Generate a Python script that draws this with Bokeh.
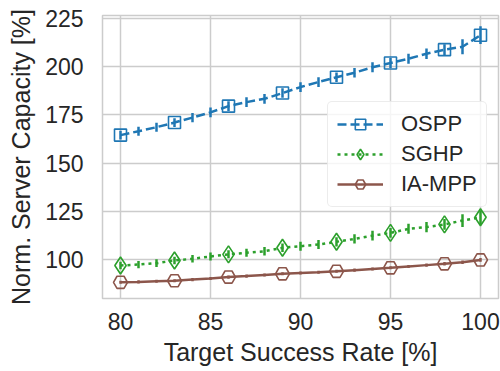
import numpy as np
from bokeh.plotting import figure
from bokeh.models import Range1d, FixedTicker, Legend, LegendItem
from bokeh.embed import file_html
from bokeh.resources import INLINE

# ---- data ----
target_rate = [80, 81, 82, 83, 84, 85, 86, 87, 88, 89, 90,
               91, 92, 93, 94, 95, 96, 97, 98, 99, 100]
ospp = [164.5, 166.5, 168.6, 171.0, 173.6, 176.3, 179.5, 181.6, 183.3, 186.3, 189.4,
        192.0, 194.5, 196.8, 199.7, 201.9, 204.1, 206.7, 208.8, 210.3, 216.3]
ospp_err = [2.3, 2.3, 2.3, 2.3, 2.4, 2.5, 2.5, 2.5, 2.5, 2.5, 2.5,
            2.5, 2.5, 2.5, 2.6, 2.6, 2.6, 2.7, 2.8, 3.9, 4.6]
sghp = [96.9, 97.4, 98.1, 99.5, 100.4, 101.6, 102.7, 103.5, 104.3, 106.1, 106.9,
        107.8, 109.2, 110.7, 112.4, 113.8, 115.9, 116.8, 118.2, 120.2, 121.9]
sghp_err = [1.9, 1.9, 2.0, 2.0, 2.0, 2.1, 2.1, 2.1, 2.2, 2.2, 2.3,
            2.3, 2.4, 2.4, 2.5, 2.5, 2.6, 2.6, 2.8, 3.3, 3.6]
iampp = [88.2, 88.4, 88.7, 89.0, 89.6, 90.2, 90.9, 91.4, 92.0, 92.6, 93.0,
         93.4, 93.9, 94.5, 95.1, 95.7, 96.4, 97.1, 97.8, 98.6, 99.8]
iampp_err = [0.8, 0.8, 0.8, 0.8, 0.8, 0.8, 0.8, 0.8, 0.8, 0.8, 0.8,
             0.8, 0.8, 0.8, 0.8, 0.8, 0.8, 0.8, 0.9, 0.9, 1.0]
marker_idx = [0, 3, 6, 9, 12, 15, 18, 20]
series_names = ["OSPP", "SGHP", "IA-MPP"]
x_ticks = [80, 85, 90, 95, 100]
y_ticks = [100, 125, 150, 175, 200, 225]

FONT = "Liberation Sans"
TXT = "#262626"
GRID = "#cccccc"

p = figure(width=500, height=371, output_backend="svg", toolbar_location=None,
           x_range=Range1d(79, 101), y_range=Range1d(79.8, 226.5),
           min_border_left=102, min_border_right=2, min_border_top=15, min_border_bottom=73)
p.background_fill_color = "white"
p.border_fill_color = "white"
p.outline_line_color = GRID
p.outline_line_width = 1.5

p.xaxis.ticker = FixedTicker(ticks=x_ticks)
p.yaxis.ticker = FixedTicker(ticks=y_ticks)
p.xgrid.ticker = FixedTicker(ticks=x_ticks)
p.ygrid.ticker = FixedTicker(ticks=y_ticks)
for g in (p.xgrid, p.ygrid):
    g.grid_line_color = GRID
    g.grid_line_width = 1.5

for ax in (p.xaxis, p.yaxis):
    ax.axis_line_color = None
    ax.major_tick_line_color = None
    ax.minor_tick_line_color = None
    ax.major_tick_out = 0
    ax.major_tick_in = 0
    ax.major_label_text_font = FONT
    ax.major_label_text_font_size = "23px"
    ax.major_label_text_color = TXT
    ax.axis_label_text_font = FONT
    ax.axis_label_text_font_size = "25px"
    ax.axis_label_text_font_style = "normal"
    ax.axis_label_text_color = TXT

p.xaxis.axis_label = "Target Success Rate [%]"
p.yaxis.axis_label = "Norm. Server Capacity [%]"
p.xaxis.major_label_standoff = 14
p.yaxis.major_label_standoff = 19
p.xaxis.axis_label_standoff = 5
p.yaxis.axis_label_standoff = 7

xs = np.array(target_rate)
styles = [
    (ospp, ospp_err, "#1f77b4", "9 4", "square", 12),
    (sghp, sghp_err, "#2ca02c", "3 4", "diamond", 17),
    (iampp, iampp_err, "#8c564b", "solid", "hex", 14),
]
items = []
for name, (vals, err, col, dash, mk, sz) in zip(series_names, styles):
    v = np.array(vals)
    e = np.array(err)
    line = p.line(xs, v, line_color=col, line_width=2.5, line_dash=dash, line_cap="butt")
    p.segment(x0=xs, y0=v - e, x1=xs, y1=v + e, line_color=col, line_width=2.5)
    mx = xs[marker_idx]
    my = v[marker_idx]
    sc = p.scatter(mx, my, marker=mk, size=sz, line_color=col, line_width=1.6,
                   fill_color="white", fill_alpha=0.0)
    items.append(LegendItem(label=name, renderers=[line, sc]))

legend = Legend(items=items, location=(225, 91))
legend.label_text_font = FONT
legend.label_text_font_size = "22px"
legend.label_text_color = TXT
legend.glyph_width = 46
legend.glyph_height = 26
legend.label_height = 26
legend.label_standoff = 18
legend.spacing = 4
legend.padding = 9
legend.margin = 0
legend.border_line_color = "#d9d9d9"
legend.border_line_width = 1.2
legend.background_fill_color = "white"
legend.background_fill_alpha = 0.8
try:
    legend.border_radius = 5
except Exception:
    pass
p.add_layout(legend)

open("out.html", "w").write(file_html(p, INLINE))
